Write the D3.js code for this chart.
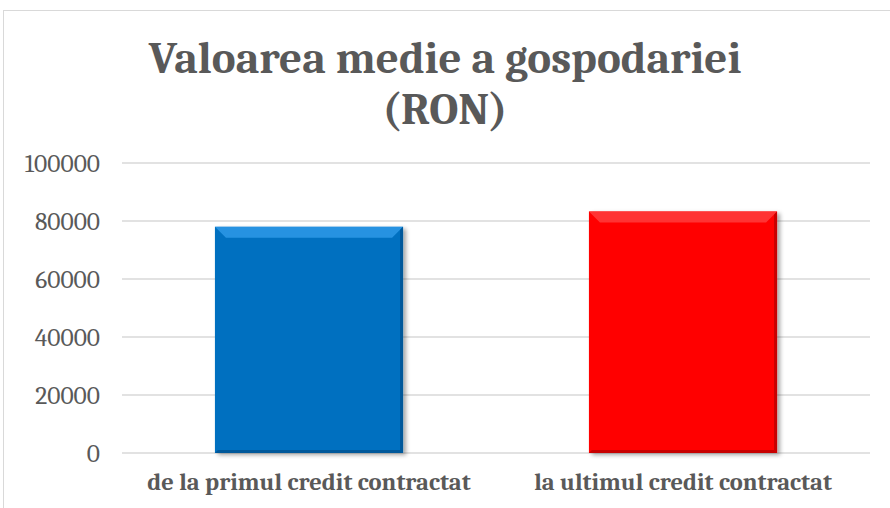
<!DOCTYPE html>
<html>
<head>
<meta charset="utf-8">
<script src="https://cdn.jsdelivr.net/npm/d3@7"></script>
<style>
  body { margin: 0; background: #fff; }
  text { font-family: Cambria, "Liberation Serif", "DejaVu Serif", serif; fill: #595959; }
</style>
</head>
<body>
<div id="chart"></div>
<script>
// chart data
var categories = ['de la primul credit contractat', 'la ultimul credit contractat'];
var values = [78000, 83300];
var barColors = ['#0070C0', '#FF0000'];
var lightColors = ['#2f9be8', '#ff4040'];
var darkColors = ['#004f8a', '#b00000'];
var tickValues = [0, 20000, 40000, 60000, 80000, 100000];
var titleLines = ['Valoarea medie a gospodariei', '(RON)'];

var W = 890, H = 508;
var margin = {left: 122, right: 20, top: 163, bottom: 55};

var svg = d3.select('#chart').append('svg')
    .attr('width', W).attr('height', H);

var defs = svg.append('defs');
var f = defs.append('filter').attr('id', 'shadow')
    .attr('x', '-10%').attr('y', '-10%').attr('width', '130%').attr('height', '130%');
f.append('feDropShadow').attr('dx', 3).attr('dy', 2).attr('stdDeviation', 2)
    .attr('flood-color', '#000').attr('flood-opacity', 0.35);

// outer chart border
svg.append('rect')
    .attr('x', 3.5).attr('y', 10.5).attr('width', W).attr('height', H)
    .attr('fill', 'none').attr('stroke', '#d9d9d9');

var x = d3.scaleBand().domain(categories)
    .range([margin.left, W - margin.right])
    .paddingInner(0.497).paddingOuter(0.2485);

var y = d3.scaleLinear().domain([0, 100000])
    .range([H - margin.bottom, margin.top]);

// gridlines
svg.append('g').selectAll('line').data(tickValues).enter()
    .append('line')
    .attr('x1', margin.left).attr('x2', W - margin.right)
    .attr('y1', d => y(d)).attr('y2', d => y(d))
    .attr('stroke', '#d9d9d9').attr('stroke-width', 1.5);

// y axis labels
var yAxis = d3.axisLeft(y).tickValues(tickValues).tickSize(0).tickPadding(0)
    .tickFormat(d3.format('d'));
svg.append('g')
    .attr('transform', 'translate(100,0)')
    .call(yAxis)
    .call(g => g.select('.domain').remove())
    .selectAll('text')
    .attr('font-size', 25.5)
    .attr('font-family', null)
    .attr('fill', '#595959')
    .attr('dy', '0.35em');

// bars with bevel
var bev = 11;
var bars = svg.append('g').selectAll('g').data(values).enter()
    .append('g');

bars.append('rect')
    .attr('x', (d, i) => x(categories[i]))
    .attr('y', d => y(d))
    .attr('width', x.bandwidth())
    .attr('height', d => y(0) - y(d))
    .attr('fill', (d, i) => barColors[i])
    .attr('filter', 'url(#shadow)');

// top bevel
bars.append('path')
    .attr('d', function (d, i) {
        var x0 = x(categories[i]), x1 = x0 + x.bandwidth(), t = y(d);
        return 'M' + x0 + ',' + t + 'L' + x1 + ',' + t + 'L' + (x1 - bev) + ',' + (t + bev) +
            'L' + (x0 + bev) + ',' + (t + bev) + 'Z';
    })
    .attr('fill', (d, i) => lightColors[i]).attr('opacity', 0.8);

// right bevel
bars.append('path')
    .attr('d', function (d, i) {
        var x1 = x(categories[i]) + x.bandwidth(), t = y(d), b = y(0), e = 3;
        return 'M' + x1 + ',' + t + 'L' + x1 + ',' + b + 'L' + (x1 - e) + ',' + (b - e) +
            'L' + (x1 - e) + ',' + (t + e) + 'Z';
    })
    .attr('fill', (d, i) => darkColors[i]).attr('opacity', 0.7);

// bottom bevel
bars.append('path')
    .attr('d', function (d, i) {
        var x0 = x(categories[i]), x1 = x0 + x.bandwidth(), b = y(0), e = 3;
        return 'M' + x0 + ',' + b + 'L' + x1 + ',' + b + 'L' + (x1 - e) + ',' + (b - e) +
            'L' + (x0 + e) + ',' + (b - e) + 'Z';
    })
    .attr('fill', (d, i) => darkColors[i]).attr('opacity', 0.7);

// category labels
svg.append('g').selectAll('text').data(categories).enter()
    .append('text')
    .attr('x', d => x(d) + x.bandwidth() / 2)
    .attr('y', H - margin.bottom + 37)
    .attr('text-anchor', 'middle')
    .attr('font-size', 24.5)
    .attr('font-weight', 'bold')
    .text(d => d);

// title
svg.append('g').selectAll('text').data(titleLines).enter()
    .append('text')
    .attr('x', 445)
    .attr('y', (d, i) => 73 + i * 51)
    .attr('text-anchor', 'middle')
    .attr('font-size', 45)
    .attr('font-weight', 'bold')
    .text(d => d);
</script>
</body>
</html>
